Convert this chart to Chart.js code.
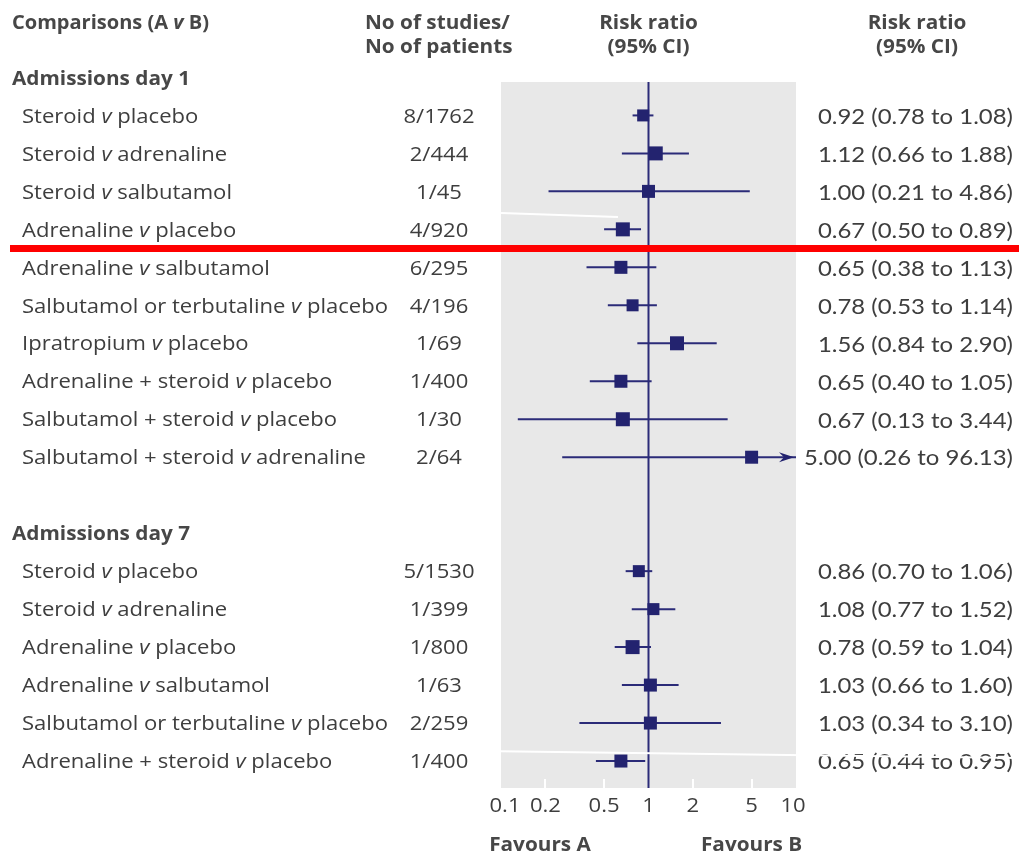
<!DOCTYPE html>
<html>
<head>
<meta charset="utf-8">
<script src="https://cdn.jsdelivr.net/npm/chart.js@4/dist/chart.umd.min.js"></script>
<style>
  html, body { margin: 0; padding: 0; background: #ffffff; }
  canvas { display: block; }
</style>
</head>
<body>
<canvas id="forest" width="1019" height="855"></canvas>
<script>
// ---- Data -------------------------------------------------------------
const groupTitles = ['Admissions day 1', 'Admissions day 7'];
const groupSizes = [10, 6];

const comparisonA = [
  'Steroid', 'Steroid', 'Steroid', 'Adrenaline', 'Adrenaline',
  'Salbutamol or terbutaline', 'Ipratropium', 'Adrenaline + steroid',
  'Salbutamol + steroid', 'Salbutamol + steroid',
  'Steroid', 'Steroid', 'Adrenaline', 'Adrenaline',
  'Salbutamol or terbutaline', 'Adrenaline + steroid'
];
const comparisonB = [
  'placebo', 'adrenaline', 'salbutamol', 'placebo', 'salbutamol',
  'placebo', 'placebo', 'placebo', 'placebo', 'adrenaline',
  'placebo', 'adrenaline', 'placebo', 'salbutamol', 'placebo', 'placebo'
];
const studiesPatients = [
  '8/1762', '2/444', '1/45', '4/920', '6/295', '4/196', '1/69', '1/400', '1/30', '2/64',
  '5/1530', '1/399', '1/800', '1/63', '2/259', '1/400'
];
const riskRatio = [0.92, 1.12, 1.00, 0.67, 0.65, 0.78, 1.56, 0.65, 0.67, 5.00,
                   0.86, 1.08, 0.78, 1.03, 1.03, 0.65];
const ciLower   = [0.78, 0.66, 0.21, 0.50, 0.38, 0.53, 0.84, 0.40, 0.13, 0.26,
                   0.70, 0.77, 0.59, 0.66, 0.34, 0.44];
const ciUpper   = [1.08, 1.88, 4.86, 0.89, 1.13, 1.14, 2.90, 1.05, 3.44, 96.13,
                   1.06, 1.52, 1.04, 1.60, 3.10, 0.95];
// side length of each study-weight square, px
const markerSide = [12, 14, 13, 14, 13, 12, 14, 13, 14, 13,
                    12, 12, 14, 13, 13, 13];

const axisTicks = [0.1, 0.2, 0.5, 1, 2, 5, 10];
const axisMin = 0.1, axisMax = 10;

// ---- Row layout: group heading, its comparisons, one blank row ----------
const headerRows = [];
const rowPos = [];
(function () {
  let r = 0;
  groupSizes.forEach((n) => {
    headerRows.push(r);
    for (let i = 1; i <= n; i++) rowPos.push(r + i);
    r += n + 2;
  });
})();
const rowMin = 0.12, rowMax = 18.71;

// ---- Styles ----------------------------------------------------------
const NAVY = '#23236f';
const LINE_NAVY = '#2b2b78';
const PANEL = '#e8e8e8';
const TEXT = '#3e3e3e';
const HEAD = '#474747';
const FAMILY = '"Open Sans", "DejaVu Sans", sans-serif';
const VALUE_FAMILY = 'Lato, "Open Sans", sans-serif';
const REG = '20px ' + FAMILY;
const ITAL = 'italic 20px ' + FAMILY;
const BOLD = 'bold 20px ' + FAMILY;
const BOLD_ITAL = 'italic bold 20px ' + FAMILY;
const VALUE_FONT = '21px ' + VALUE_FAMILY;
const TEXT_DY = 1.5;   // optical nudge for middle-baseline text

const fmt = v => v.toFixed(2);

function labelSegments(a, b, bold) {
  return [
    { text: a + ' ', font: bold ? BOLD : REG },
    { text: 'v', font: bold ? BOLD_ITAL : ITAL },
    { text: ' ' + b, font: bold ? BOLD : REG }
  ];
}

function segWidth(ctx, segs) {
  let w = 0;
  segs.forEach(s => { ctx.font = s.font; w += ctx.measureText(s.text).width; });
  return w;
}

// draw a run of styled segments, horizontally condensed by sx
function drawSegs(ctx, segs, x, y, sx, align) {
  const total = segWidth(ctx, segs) * sx;
  let cx = align === 'center' ? x - total / 2 : align === 'right' ? x - total : x;
  ctx.textAlign = 'left';
  segs.forEach(s => {
    ctx.font = s.font;
    const w = ctx.measureText(s.text).width;
    ctx.save();
    ctx.translate(cx, y + TEXT_DY);
    ctx.scale(sx, 1);
    ctx.fillText(s.text, 0, 0);
    ctx.restore();
    cx += w * sx;
  });
}

function drawText(ctx, text, font, x, y, sx, align) {
  drawSegs(ctx, [{ text, font }], x, y, sx, align);
}

// ---- Datasets ---------------------------------------------------------
const markerData = riskRatio.map((v, i) => ({ x: v, y: rowPos[i] }));

const ciDatasets = riskRatio.map((v, i) => ({
  type: 'scatter',
  showLine: true,
  data: [
    { x: ciLower[i], y: rowPos[i] },
    { x: Math.min(ciUpper[i], axisMax), y: rowPos[i] }
  ],
  borderColor: LINE_NAVY,
  borderWidth: 2,
  pointRadius: 0,
  order: 1
}));

const datasets = [
  {
    type: 'scatter',
    data: markerData,
    pointStyle: 'rect',
    pointRadius: markerSide.map(s => s / Math.SQRT2),
    backgroundColor: NAVY,
    borderColor: NAVY,
    borderWidth: 0,
    order: 0
  },
  ...ciDatasets,
  {
    type: 'scatter',
    showLine: true,
    data: [{ x: 1, y: rowMin }, { x: 1, y: rowMax }],
    borderColor: LINE_NAVY,
    borderWidth: 2,
    pointRadius: 0,
    order: 2
  }
];

// ---- Plugins ----------------------------------------------------------
const panelPlugin = {
  id: 'panel',
  beforeDraw(chart) {
    const { ctx, chartArea: a, scales } = chart;
    ctx.save();
    ctx.fillStyle = '#ffffff';
    ctx.fillRect(0, 0, chart.width, chart.height);
    ctx.fillStyle = PANEL;
    ctx.fillRect(a.left, a.top, a.right - a.left, a.bottom - a.top);
    // short white tick marks along the panel foot
    ctx.strokeStyle = '#ffffff';
    ctx.lineWidth = 2;
    axisTicks.forEach(t => {
      if (t === axisMin || t === axisMax || t === 1) return;
      const x = Math.round(scales.x.getPixelForValue(t));
      ctx.beginPath();
      ctx.moveTo(x, a.bottom - 9);
      ctx.lineTo(x, a.bottom);
      ctx.stroke();
    });
    ctx.restore();
  }
};

const textPlugin = {
  id: 'forestText',
  afterDraw(chart) {
    const { ctx, chartArea: a, scales } = chart;
    const xs = scales.x, ys = scales.y;
    ctx.save();
    ctx.textBaseline = 'middle';

    // condensing factors so the columns keep their widths
    const longest = labelSegments('Salbutamol or terbutaline', 'placebo', false);
    const sxReg = 366 / segWidth(ctx, longest);
    ctx.font = BOLD;
    const sxBold = 178 / ctx.measureText('Admissions day 1').width;
    const titleSegs = labelSegments('Comparisons (A', 'B)', true);
    const sxTitle = (sxBold + 190 / segWidth(ctx, titleSegs)) / 2;
    ctx.font = VALUE_FONT;
    const sxVal = 209 / ctx.measureText('5.00 (0.26 to 96.13)').width;

    // column headings
    ctx.fillStyle = HEAD;
    drawSegs(ctx, titleSegs, 12, 22, sxTitle, 'left');
    drawText(ctx, 'No of studies/', BOLD, 365, 22, sxBold, 'left');
    drawText(ctx, 'No of patients', BOLD, 365, 46, sxBold, 'left');
    const midPanel = xs.getPixelForValue(1);
    drawText(ctx, 'Risk ratio', BOLD, midPanel, 22, sxBold, 'center');
    drawText(ctx, '(95% CI)', BOLD, midPanel, 46, sxBold, 'center');
    drawText(ctx, 'Risk ratio', BOLD, 917, 22, sxBold, 'center');
    drawText(ctx, '(95% CI)', BOLD, 917, 46, sxBold, 'center');

    // group headings
    groupTitles.forEach((t, g) => {
      drawText(ctx, t, BOLD, 12, ys.getPixelForValue(headerRows[g]), sxBold, 'left');
    });

    // rows
    ctx.fillStyle = TEXT;
    riskRatio.forEach((v, i) => {
      const y = ys.getPixelForValue(rowPos[i]);
      drawSegs(ctx, labelSegments(comparisonA[i], comparisonB[i], false), 22, y, sxReg, 'left');
      drawText(ctx, studiesPatients[i], REG, 439, y, sxReg, 'center');
      const txt = fmt(v) + ' (' + fmt(ciLower[i]) + ' to ' + fmt(ciUpper[i]) + ')';
      drawText(ctx, txt, VALUE_FONT, 1013, y, sxVal, 'right');
    });

    // arrowheads for intervals running past the axis
    ctx.fillStyle = NAVY;
    riskRatio.forEach((v, i) => {
      if (ciUpper[i] <= axisMax) return;
      const y = ys.getPixelForValue(rowPos[i]);
      const tip = xs.getPixelForValue(axisMax) - 2;
      ctx.beginPath();
      ctx.moveTo(tip, y);
      ctx.lineTo(tip - 15, y - 5);
      ctx.lineTo(tip - 10, y);
      ctx.lineTo(tip - 15, y + 5);
      ctx.closePath();
      ctx.fill();
    });

    // axis tick labels (end labels kept just inside the panel edges)
    ctx.fillStyle = TEXT;
    axisTicks.forEach((t, k) => {
      const inset = k === 0 ? 4 : k === axisTicks.length - 1 ? -3 : 0;
      drawText(ctx, String(t), REG, xs.getPixelForValue(t) + inset, a.bottom + 17, sxReg, 'center');
    });

    // favours captions
    ctx.fillStyle = HEAD;
    drawText(ctx, 'Favours A', BOLD, 540, 844, sxBold, 'center');
    drawText(ctx, 'Favours B', BOLD, xs.getPixelForValue(5), 844, sxBold, 'center');

    // fine white strokes across the panel
    ctx.strokeStyle = '#ffffff';
    ctx.lineWidth = 2;
    ctx.beginPath();
    ctx.moveTo(a.left, 213);
    ctx.lineTo(618, 217);
    ctx.stroke();
    ctx.beginPath();
    ctx.moveTo(480, 751);
    ctx.lineTo(1019, 758);
    ctx.stroke();

    // red divider under the first four day-1 comparisons
    ctx.fillStyle = '#ff0000';
    ctx.fillRect(10, 245, 1009, 7);

    ctx.restore();
  }
};

// ---- Chart ------------------------------------------------------------
new Chart(document.getElementById('forest').getContext('2d'), {
  type: 'scatter',
  data: { datasets },
  options: {
    responsive: false,
    animation: false,
    devicePixelRatio: 1,
    events: [],
    layout: { padding: { left: 501, right: 223, top: 82, bottom: 67 } },
    plugins: { legend: { display: false }, tooltip: { enabled: false } },
    scales: {
      x: { type: 'logarithmic', min: axisMin, max: axisMax, display: false },
      y: { type: 'linear', min: rowMin, max: rowMax, reverse: true, display: false }
    }
  },
  plugins: [panelPlugin, textPlugin]
});
</script>
</body>
</html>
